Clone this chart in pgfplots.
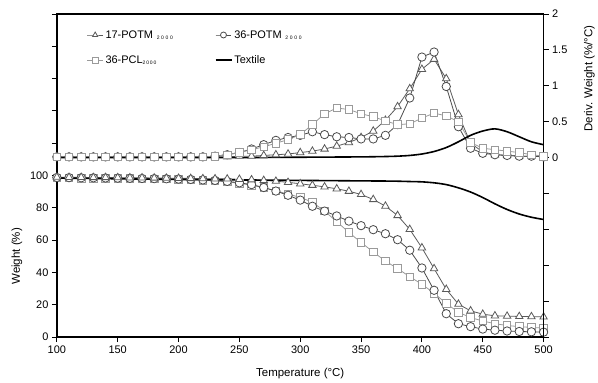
\documentclass[border=0pt]{standalone}
\usepackage{pgfplots}
\pgfplotsset{compat=1.18}
\usepackage{fontspec}
\setmainfont{Liberation Sans}
\definecolor{triC}{HTML}{5A5A5A}
\definecolor{cirC}{HTML}{4A4A4A}
\definecolor{sqC}{HTML}{9A9A9A}
\newcommand{\sub}{{\fontsize{5bp}{6bp}\selectfont\raisebox{-0.5ex}{2\,\,0\,\,0\,\,0}}}
\newcommand{\subb}{{\fontsize{5bp}{6bp}\selectfont\raisebox{-0.5ex}{2\,0\,0\,0}}}

\pgfplotstableread{
T w17 w36 wpcl
100 99.0 98.8 98.6
110 98.9 98.7 98.5
120 98.9 98.6 98.4
130 98.8 98.6 98.4
140 98.8 98.5 98.3
150 98.7 98.4 98.2
160 98.6 98.3 98.1
170 98.6 98.2 98.0
180 98.5 98.1 97.9
190 98.4 98.0 97.8
200 98.3 97.8 97.6
210 98.2 97.6 97.4
220 98.1 97.3 97.1
230 98.0 97.0 96.7
240 97.9 96.4 96.1
250 97.7 95.5 95.2
260 97.4 94.4 94.0
270 97.0 92.6 92.5
280 96.5 90.4 90.6
290 95.8 87.8 88.5
300 94.9 84.8 86.5
310 94.0 81.0 83.5
320 93.0 78.0 78.0
330 91.8 75.0 71.5
340 90.3 71.8 64.8
350 88.3 69.0 58.6
360 85.2 66.5 52.7
370 81.1 64.0 47.1
380 75.3 60.3 42.4
390 66.7 53.8 37.4
400 55.3 42.8 32.7
410 42.4 29.0 27.2
420 29.6 14.5 20.8
430 20.4 8.3 15.4
440 16.3 6.5 12.1
450 14.2 5.0 10.0
460 13.2 4.3 8.3
470 13.0 3.8 7.2
480 12.8 3.5 6.5
490 12.7 3.3 6.0
500 12.5 3.1 5.6
}\weight

\pgfplotstableread{
T d17 d36 dpcl
100 0.01 0.01 0.01
110 0.01 0.01 0.01
120 0.01 0.01 0.01
130 0.01 0.01 0.01
140 0.01 0.01 0.01
150 0.01 0.01 0.01
160 0.01 0.01 0.01
170 0.01 0.01 0.01
180 0.01 0.01 0.01
190 0.01 0.01 0.01
200 0.01 0.01 0.01
210 0.01 0.01 0.01
220 0.01 0.01 0.01
230 0.01 0.02 0.02
240 0.01 0.04 0.04
250 0.02 0.07 0.07
260 0.02 0.12 0.11
270 0.03 0.18 0.15
280 0.04 0.24 0.20
290 0.05 0.28 0.25
300 0.07 0.31 0.32
310 0.09 0.36 0.46
320 0.12 0.32 0.61
330 0.16 0.29 0.69
340 0.21 0.28 0.67
350 0.28 0.26 0.61
360 0.37 0.26 0.57
370 0.52 0.31 0.51
380 0.71 0.46 0.46
390 0.96 0.83 0.47
400 1.23 1.40 0.55
410 1.37 1.47 0.62
420 1.10 0.99 0.58
430 0.60 0.43 0.50
440 0.20 0.13 0.21
450 0.08 0.06 0.13
460 0.04 0.04 0.11
470 0.03 0.03 0.09
480 0.02 0.02 0.07
490 0.02 0.02 0.04
500 0.01 0.01 0.02
}\deriv

\pgfplotstableread{
T w d
100 98.5 0.0
150 98.0 0.0
200 97.6 0.0
250 97.3 0.0
300 97.0 0.005
350 96.7 0.01
370 96.6 0.015
380 96.5 0.02
390 96.3 0.03
400 96.1 0.05
410 95.5 0.085
420 94.4 0.14
430 92.4 0.22
440 89.8 0.31
450 86.4 0.37
460 82.5 0.40
470 79.0 0.36
480 76.2 0.29
490 74.2 0.22
500 72.8 0.18
}\textile

\begin{document}
\begin{tikzpicture}
\pgfplotsset{
  base/.style={
    scale only axis, width=488bp, height=324bp,
    xmin=100, xmax=500, at={(0,0)}, anchor=south west,
    font=\fontsize{11bp}{13bp}\selectfont,
    label style={font=\fontsize{11.5bp}{13bp}\selectfont},
    /pgf/number format/assume math mode=true,
    tick align=outside, major tick length=5bp,
    tick style={black, line width=0.9bp},
    axis line style={line width=1.5bp},
  },
  tri/.style={color=triC, line width=0.8bp, mark=triangle*, mark size=4.3bp, mark options={fill=white, draw=triC, solid, line width=0.8bp}},
  cir/.style={color=cirC, line width=0.8bp, mark=*, mark size=4.2bp, mark options={fill=white, draw=cirC, solid, line width=0.8bp}},
  sq/.style={color=sqC, line width=0.8bp, mark=square*, mark size=3.8bp, mark options={fill=white, draw=sqC, solid, line width=0.8bp}},
}
\begin{axis}[base,
  ymin=0, ymax=200, ytick={0,20,...,200},
  yticklabels={0,20,40,60,80,100,,,,,},
  xtick={100,150,...,500}, xtick pos=bottom, ytick pos=left,
  xlabel={Temperature (°C)}, ylabel={Weight (\%)},
  xlabel style={at={(axis description cs:0.5,-0.114)}, anchor=center},
  ylabel style={at={(axis description cs:-0.082,0.25)}, anchor=center},
]
\addplot[sq] table[x=T, y=wpcl] {\weight};
\addplot[cir] table[x=T, y=w36] {\weight};
\addplot[tri] table[x=T, y=w17] {\weight};
\addplot[black, line width=1.6bp, smooth, no marks] table[x=T, y=w] {\textile};
\end{axis}
\begin{axis}[base,
  axis x line=none, axis y line*=right,
  ymin=-2.5, ymax=2, ytick={-2.5,-2,...,2},
  yticklabels={,,,,,0,0.5,1,1.5,2},
  ylabel={Deriv. Weight (\%/°C)},
  ylabel style={at={(axis description cs:1.094,0.80)}, anchor=center},
  legend columns=2,
  legend cell align=left,
  legend style={draw=none, fill=none, at={(axis description cs:0.055,0.962)}, anchor=north west,
    row sep=12bp, /tikz/every even column/.append style={column sep=40bp},
    font=\fontsize{11bp}{13bp}\selectfont},
  legend image code/.code={\draw[mark repeat=2, mark phase=2, mark size=3bp] plot coordinates {(0bp,0bp) (8bp,0bp) (16bp,0bp)};},
]
\addplot[tri] table[x=T, y=d17] {\deriv};
\addlegendentry{17-POTM\,\,\sub}
\addplot[cir] table[x=T, y=d36] {\deriv};
\addlegendentry{36-POTM\,\,\sub}
\addplot[sq] table[x=T, y=dpcl] {\deriv};
\addlegendentry{36-PCL\subb}
\addplot[black, line width=1.6bp, smooth, no marks] table[x=T, y=d] {\textile};
\addlegendentry{Textile}
\end{axis}
\path (-57bp,-43bp) rectangle (541bp,338bp);
\end{tikzpicture}
\end{document}
